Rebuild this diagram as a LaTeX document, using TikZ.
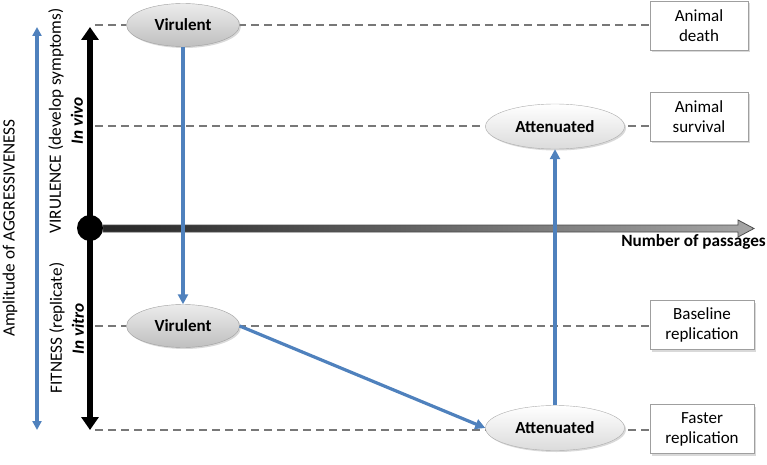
\documentclass[tikz,border=0pt]{standalone}
\usepackage{fontspec}
\setmainfont{Carlito}
\usetikzlibrary{shapes.geometric,arrows.meta,shadows}
\definecolor{myblue}{RGB}{79,129,189}
\definecolor{dashgray}{RGB}{120,120,120}
\begin{document}
\begin{tikzpicture}[x=1pt,y=-1pt,
  txt/.style={font=\fontsize{17.2}{20}\selectfont, inner sep=0pt},
  btxt/.style={font=\fontsize{17.2}{20}\selectfont\bfseries, inner sep=0pt},
  virbox/.style={ellipse, draw=gray!75, top color=gray!15, bottom color=gray!50, minimum width=113pt, minimum height=43pt, inner sep=0pt, font=\fontsize{17}{20}\selectfont\bfseries, drop shadow={opacity=0.3, shadow xshift=1.5pt, shadow yshift=-1.5pt}},
  attbox/.style={ellipse, draw=gray!65, top color=white, bottom color=gray!28, minimum width=139pt, minimum height=45pt, inner sep=0pt, font=\fontsize{17}{20}\selectfont\bfseries, drop shadow={opacity=0.3, shadow xshift=1.5pt, shadow yshift=-1.5pt}},
  outbox/.style={rectangle, draw=gray!75, fill=white, align=center, minimum height=49pt, inner sep=0pt, font=\fontsize{17}{20}\selectfont, drop shadow={opacity=0.3, shadow xshift=2pt, shadow yshift=-2pt}},
  dashline/.style={dashgray, line width=2.3pt, dash pattern=on 8pt off 5pt},
  bluearrow/.style={myblue, line width=3.2pt, -{Triangle[width=10pt,length=10pt]}},
  axisarrow/.style={black, line width=6.5pt, -{Triangle[width=17pt,length=13pt]}}
]
\useasboundingbox (0,0) rectangle (767,465);

% coordinates
\coordinate (origin) at (90,228);
\coordinate (ytop) at (90,27);
\coordinate (ybot) at (90,430);
\coordinate (btop) at (37,27);
\coordinate (bbot) at (37,430);
\coordinate (d1) at (95,25);
\coordinate (d2) at (95,126);
\coordinate (d3) at (95,326);
\coordinate (d4) at (95,430);

% output boxes
\node[outbox, minimum width=98pt] (death) at (699,25.5) {Animal\\death};
\node[outbox, minimum width=98pt] (surv) at (699,116.5) {Animal\\survival};
\node[outbox, minimum width=104pt] (base) at (702,325) {Baseline\\replication};
\node[outbox, minimum width=104pt] (fast) at (702,429) {Faster\\replication};

% dashed lines
\draw[dashline] (d1) -- (d1 -| death.west);
\draw[dashline] (d2) -- (d2 -| surv.west);
\draw[dashline] (d3) -- (d3 -| base.west);
\draw[dashline] (d4) -- (d4 -| fast.west);

% horizontal gradient arrow
\shade[left color=black!85, right color=gray!70, draw=black!70, line width=0.8pt]
  (103,225) -- (738,225) -- (738,220) -- (754,228.5) -- (738,237) -- (738,232) -- (103,232) -- cycle;

% vertical axis
\draw[axisarrow] (origin) -- (ytop);
\draw[axisarrow] (origin) -- (ybot);
\node[circle, fill=black, minimum size=26pt, inner sep=0pt] (orig) at (origin) {};

% blue amplitude arrow
\draw[myblue, line width=3.4pt, {Triangle[width=9pt,length=9pt]}-{Triangle[width=9pt,length=9pt]}] (btop) -- (bbot);

% ellipses
\node[virbox] (vtop) at (183,25) {Virulent};
\node[virbox] (vbot) at (183,326) {Virulent};
\node[attbox] (atop) at (555,126.5) {Attenuated};
\node[attbox] (abot) at (555,428) {Attenuated};

% blue transitions
\draw[bluearrow] (vtop.south) -- (vbot.north);
\draw[bluearrow] (vbot.east) -- (abot.west);
\draw[bluearrow] (abot.north) -- (atop.south);

% labels
\node[txt, rotate=90] (amp) at (10,228) {Amplitude of AGGRESSIVENESS};
\node[txt, rotate=90] (vir) at (56,121) {VIRULENCE (develop symptoms)};
\node[btxt, rotate=90] (vivo) at (77,121) {\itshape In vivo};
\node[txt, rotate=90] (fit) at (57,328) {FITNESS (replicate)};
\node[btxt, rotate=90] (vitro) at (78,329) {\itshape In vitro};
\node[btxt, anchor=east] (passages) at (766,242) {Number of passages};
\end{tikzpicture}
\end{document}
